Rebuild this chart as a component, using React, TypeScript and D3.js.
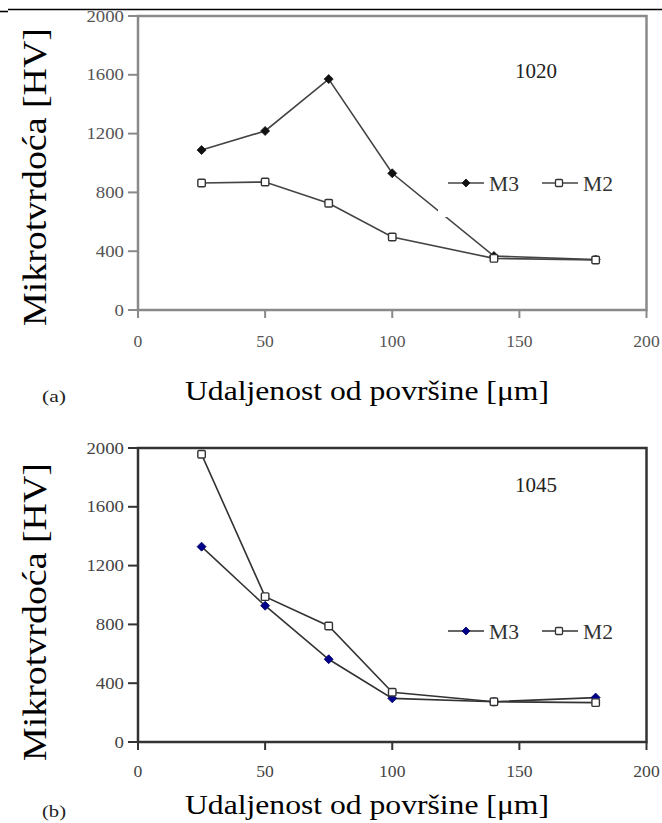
import React from 'react';
import * as d3 from 'd3';

const xValues = [25, 50, 75, 100, 140, 180];
const m3_1020 = [1088, 1218, 1571, 930, 367, 343];
const m2_1020 = [864, 871, 726, 497, 351, 340];
const m3_1045 = [1329, 927, 563, 297, 274, 302];
const m2_1045 = [1957, 989, 789, 338, 274, 268];
const xTicks = [0, 50, 100, 150, 200];
const yTicks = [0, 400, 800, 1200, 1600, 2000];
const seriesNames = ['M3', 'M2'];
const steelLabels = ['1020', '1045'];
const panelLabels = ['(a)', '(b)'];
const yTitle = 'Mikrotvrdoća [HV]';
const xTitle = 'Udaljenost  od površine [μm]';

const FONT = '"Liberation Serif", "Times New Roman", Times, serif';

type PanelCfg = {
  top: number;
  bottom: number;
  m3: number[];
  m2: number[];
  label: string;
  panel: string;
  frame: string;
  tickText: string;
  m3Fill: string;
  m3Stroke: string;
  lineColor: string;
  xLabelBase: number;
  titleBase: number;
  panelBase: number;
  yTitleCenter: number;
  legendY: number;
  steelBase: number;
  legendBg: boolean;
};

const panels: PanelCfg[] = [
  {
    top: 16, bottom: 310, m3: m3_1020, m2: m2_1020, label: steelLabels[0], panel: panelLabels[0],
    frame: '#8a8a8a', tickText: '#555', m3Fill: '#111', m3Stroke: '#111', lineColor: '#444',
    xLabelBase: 347, titleBase: 400, panelBase: 402, yTitleCenter: 177, legendY: 183, steelBase: 78, legendBg: true,
  },
  {
    top: 448, bottom: 742, m3: m3_1045, m2: m2_1045, label: steelLabels[1], panel: panelLabels[1],
    frame: '#333', tickText: '#444', m3Fill: '#00008b', m3Stroke: '#000060', lineColor: '#333',
    xLabelBase: 777, titleBase: 814, panelBase: 817, yTitleCenter: 612, legendY: 631, steelBase: 492, legendBg: false,
  },
];

const x = d3.scaleLinear().domain([0, 200]).range([138, 646.5]);

function Panel({ c }: { c: PanelCfg }) {
  const y = d3.scaleLinear().domain([0, 2000]).range([c.bottom, c.top]);
  const line = d3.line<number>().x((_, i) => x(xValues[i])).y((v) => y(v));
  const diamond = (cx: number, cy: number, r = 4.5) =>
    `M${cx},${cy - r}L${cx + r},${cy}L${cx},${cy + r}L${cx - r},${cy}Z`;
  const sq = 7.5;
  return (
    <g>
      <text
        transform={`translate(46,${c.yTitleCenter}) rotate(-90)`}
        textAnchor="middle"
        fontFamily={FONT}
        fontSize={34}
        textLength={298}
        lengthAdjust="spacingAndGlyphs"
        fill="#000"
      >
        {yTitle}
      </text>
      <rect x={x(0)} y={c.top} width={x(200) - x(0)} height={c.bottom - c.top} fill="none" stroke={c.frame} strokeWidth={2.5} />
      {yTicks.map((t) => (
        <g key={'y' + t}>
          <line x1={x(0) - 10} x2={x(0)} y1={y(t)} y2={y(t)} stroke={c.frame} strokeWidth={2} />
          <text
            x={124}
            y={y(t) + 5.5}
            textAnchor="end"
            fontFamily={FONT}
            fontSize={17}
            fill={c.tickText}
            textLength={String(t).length * 9.4}
            lengthAdjust="spacingAndGlyphs"
          >
            {t}
          </text>
        </g>
      ))}
      {xTicks.map((t) => (
        <g key={'x' + t}>
          <line x1={x(t)} x2={x(t)} y1={c.bottom} y2={c.bottom + 8} stroke={c.frame} strokeWidth={2} />
          <text
            x={x(t)}
            y={c.xLabelBase}
            textAnchor="middle"
            fontFamily={FONT}
            fontSize={16}
            fill={c.tickText}
            textLength={String(t).length * 8.8}
            lengthAdjust="spacingAndGlyphs"
          >
            {t}
          </text>
        </g>
      ))}
      <text x={536} y={c.steelBase} textAnchor="middle" fontFamily={FONT} fontSize={21} fill="#222" textLength={42} lengthAdjust="spacingAndGlyphs">
        {c.label}
      </text>
      <path d={line(c.m2) || ''} fill="none" stroke={c.lineColor} strokeWidth={1.6} />
      <path d={line(c.m3) || ''} fill="none" stroke={c.lineColor} strokeWidth={1.6} />
      {c.legendBg && <rect x={438} y={165} width={182} height={52} fill="#fff" />}
      {c.m3.map((v, i) => (
        <path key={'m3' + i} d={diamond(x(xValues[i]), y(v))} fill={c.m3Fill} stroke={c.m3Stroke} strokeWidth={0.8} />
      ))}
      {c.m2.map((v, i) => (
        <rect key={'m2' + i} x={x(xValues[i]) - sq / 2} y={y(v) - sq / 2} width={sq} height={sq} rx={1.2} fill="#fff" stroke="#333" strokeWidth={1.4} />
      ))}
      <line x1={448} x2={484} y1={c.legendY} y2={c.legendY} stroke={c.lineColor} strokeWidth={1.6} />
      <path d={diamond(466, c.legendY, 4)} fill={c.m3Fill} stroke={c.m3Stroke} strokeWidth={0.8} />
      <text x={489} y={c.legendY + 8} fontFamily={FONT} fontSize={22} fill="#333" textLength={30} lengthAdjust="spacingAndGlyphs">
        {seriesNames[0]}
      </text>
      <line x1={542} x2={578} y1={c.legendY} y2={c.legendY} stroke={c.lineColor} strokeWidth={1.6} />
      <rect x={559 - 3.5} y={c.legendY - 3.5} width={7} height={7} rx={1} fill="#fff" stroke="#333" strokeWidth={1.3} />
      <text x={583} y={c.legendY + 8} fontFamily={FONT} fontSize={22} fill="#333" textLength={30} lengthAdjust="spacingAndGlyphs">
        {seriesNames[1]}
      </text>
      <text x={185} y={c.titleBase} fontFamily={FONT} fontSize={27} fill="#000" textLength={364} lengthAdjust="spacingAndGlyphs">
        {xTitle}
      </text>
      <text x={42} y={c.panelBase} fontFamily={FONT} fontSize={17} fill="#222" textLength={24} lengthAdjust="spacingAndGlyphs">
        {c.panel}
      </text>
    </g>
  );
}

export default function App() {
  return (
    <svg
      width={662}
      height={823}
      viewBox="0 0 662 823"
      style={{ position: 'absolute', left: 0, top: 0, background: '#fff' }}
    >
      <rect x={0} y={0} width={662} height={823} fill="#fff" />
      <line x1={8} x2={662} y1={9.5} y2={9.5} stroke="#000" strokeWidth={1.6} />
      <line x1={0} x2={8} y1={11.5} y2={11.5} stroke="#000" strokeWidth={1.6} />
      {panels.map((c, i) => (
        <Panel key={i} c={c} />
      ))}
    </svg>
  );
}
